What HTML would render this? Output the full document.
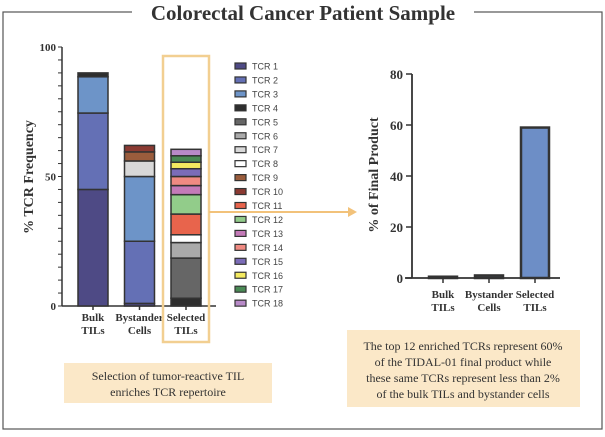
<!DOCTYPE html>
<html><head><meta charset="utf-8"><style>
body{margin:0;background:#fff;width:605px;height:432px;overflow:hidden}
svg text{font-family:"Liberation Serif",serif}
svg text.sans{font-family:"Liberation Sans",sans-serif}
</style></head><body>
<svg width="605" height="432">
<rect x="3" y="12" width="599" height="417" fill="none" stroke="#555" stroke-width="1.2"/>
<rect x="132" y="2" width="342" height="22" fill="#fff"/>
<text x="303" y="20" text-anchor="middle" font-size="21" font-weight="bold" fill="#333">Colorectal Cancer Patient Sample</text>
<g id="left"></g>
<g id="legend"></g>
<g id="right"></g>
<rect x="163" y="56" width="46" height="286" fill="none" stroke="#f2cf91" stroke-width="2.5"/>
<line x1="209" y1="212" x2="350" y2="212" stroke="#f2c27a" stroke-width="2"/>
<polygon points="357,212 348,207 348,217" fill="#f2c27a"/>
<rect x="64" y="363" width="208" height="40" fill="#fbe8c8"/>
<text x="168" y="380" text-anchor="middle" font-size="12" fill="#333">Selection of tumor-reactive TIL</text>
<text x="168" y="396" text-anchor="middle" font-size="12" fill="#333">enriches TCR repertoire</text>
<rect x="347" y="330" width="233" height="77" fill="#fbe8c8"/>
<text x="463" y="350" text-anchor="middle" font-size="12" fill="#333">The top 12 enriched TCRs represent 60%</text>
<text x="463" y="366" text-anchor="middle" font-size="12" fill="#333">of the TIDAL-01 final product while</text>
<text x="463" y="382" text-anchor="middle" font-size="12" fill="#333">these same TCRs represent less than 2%</text>
<text x="463" y="398" text-anchor="middle" font-size="12" fill="#333">of the bulk TILs and bystander cells</text>
</svg>
<script>
const NS="http://www.w3.org/2000/svg";
function mk(p,t,a){const e=document.createElementNS(NS,t);for(const k in a)e.setAttribute(k,a[k]);p.appendChild(e);return e;}
const tcrNames=["TCR 1","TCR 2","TCR 3","TCR 4","TCR 5","TCR 6","TCR 7","TCR 8","TCR 9","TCR 10","TCR 11","TCR 12","TCR 13","TCR 14","TCR 15","TCR 16","TCR 17","TCR 18"];
const tcrColors=["#4e4a85","#6470b5","#6d94c8","#2e2e2e","#666","#aaa","#d8d8d8","#fff","#9a5c3c","#8b3a32","#e8644c","#92cc8a","#c47ab8","#f08a82","#7b6cb8","#f4ea60","#4a8a55","#b88ac8"];
const leftCategories=["Bulk|TILs","Bystander|Cells","Selected|TILs"];
const bulkValues=[45,29.5,14,1.5,0,0,0,0,0,0,0,0,0,0,0,0,0,0];
const bystanderValues=[1,24,25,0,0,0,6,0,3.5,2.5,0,0,0,0,0,0,0,0];
const selectedValues=[0,0,0,3,15.5,6,0,3,0,0,8,7.5,3.5,3.5,3,2.5,2.5,2.5];
const leftTicks=[0,50,100];
const rightCategories=["Bulk|TILs","Bystander|Cells","Selected|TILs"];
const rightValues=[0.5,1,59];
const rightTicks=[0,20,40,60,80];

const L=document.getElementById("left");
const ly=v=>306-v*2.59;
const lx=i=>93+i*46.5;
mk(L,"line",{x1:62,y1:ly(0),x2:216,y2:ly(0),stroke:"#333","stroke-width":1.5});
mk(L,"line",{x1:62,y1:ly(0),x2:62,y2:ly(100),stroke:"#333","stroke-width":1.5});
for(let v=0;v<=100;v+=5){const t=mk(L,"line",{x1:58,x2:62,y1:ly(v),y2:ly(v),stroke:"#333","stroke-width":1});}
leftTicks.forEach(v=>{const t=mk(L,"text",{x:56,y:ly(v)+4,"text-anchor":"end","font-size":11,"font-weight":"bold",fill:"#333"});t.textContent=v;});
const yt=mk(L,"text",{transform:"translate(33,177) rotate(-90)","text-anchor":"middle","font-size":14,"font-weight":"bold",fill:"#333"});yt.textContent="% TCR Frequency";

[bulkValues,bystanderValues,selectedValues].forEach((vals,i)=>{
  let acc=0;
  vals.forEach((v,j)=>{if(v<=0)return;const r=mk(L,"rect",{x:lx(i)-15,y:ly(acc+v),width:30,height:v*2.59,fill:tcrColors[j],stroke:"#333","stroke-width":1.5});
    acc+=v;});
  mk(L,"line",{x1:lx(i),x2:lx(i),y1:ly(0),y2:ly(0)+4,stroke:"#333","stroke-width":1.5});
  leftCategories[i].split("|").forEach((s,k)=>{const t=mk(L,"text",{x:lx(i),y:321+k*13,"text-anchor":"middle","font-size":11,"font-weight":"bold",fill:"#333"});t.textContent=s;
    });
});
const G=document.getElementById("legend");
tcrNames.forEach((n,j)=>{const y=66+j*13.95;
  const r=mk(G,"rect",{x:235,y:y-3,width:11,height:6,fill:tcrColors[j],stroke:"#333","stroke-width":1.2});
  
  const t=mk(G,"text",{x:252,y:y+3.5,"font-size":9,fill:"#444","class":"sans"});t.textContent=n;
  });
const R=document.getElementById("right");
const ry=v=>278-v*2.55;
const rx=i=>443+i*46;
mk(R,"line",{x1:405,y1:ry(0),x2:560,y2:ry(0),stroke:"#333","stroke-width":1.8});
mk(R,"line",{x1:412,y1:ry(0),x2:412,y2:ry(80),stroke:"#333","stroke-width":1.8});
rightTicks.forEach(v=>{mk(R,"line",{x1:406,x2:412,y1:ry(v),y2:ry(v),stroke:"#333","stroke-width":1.5});
  const t=mk(R,"text",{x:403,y:ry(v)+5,"text-anchor":"end","font-size":13,"font-weight":"bold",fill:"#333"});t.textContent=v;
  });
const yt2=mk(R,"text",{transform:"translate(378,175) rotate(-90)","text-anchor":"middle","font-size":14,"font-weight":"bold",fill:"#333"});yt2.textContent="% of Final Product";

rightValues.forEach((v,i)=>{const b=mk(R,"rect",{x:rx(i)-14,y:ry(v),width:28,height:v*2.55,fill:"#6d8ec6",stroke:"#333","stroke-width":2.5});
  
  mk(R,"line",{x1:rx(i),x2:rx(i),y1:ry(0),y2:ry(0)+5,stroke:"#333","stroke-width":1.5});
  rightCategories[i].split("|").forEach((s,k)=>{const t=mk(R,"text",{x:rx(i),y:298+k*13,"text-anchor":"middle","font-size":11,"font-weight":"bold",fill:"#333"});t.textContent=s;
    });
});
</script>
</body></html>
